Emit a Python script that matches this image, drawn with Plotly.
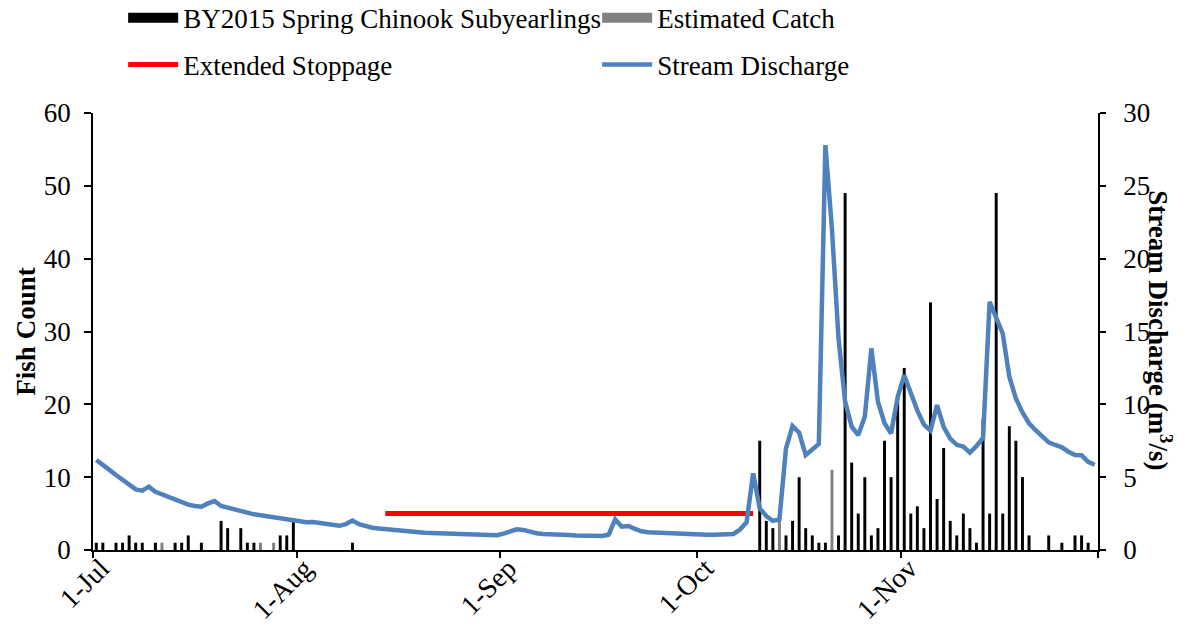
import pandas as pd
import plotly.graph_objects as go

# Daily mean stream discharge (m^3/s), 1 Jul - 30 Nov 2016
discharge_jul = [6.18, 5.8, 5.5, 5.15, 4.8, 4.46, 4.16, 4.07, 4.35, 4.0, 3.82,
                 3.61, 3.43, 3.25, 3.11, 3.02, 2.97, 3.2, 3.36, 3.02, 2.9, 2.82,
                 2.68, 2.56, 2.45, 2.38, 2.31, 2.22, 2.13, 2.06, 1.99]
discharge_aug = [1.95, 1.9, 1.92, 1.85, 1.75, 1.68, 1.66, 1.78, 2.02, 1.77, 1.62,
                 1.53, 1.48, 1.43, 1.38, 1.33, 1.29, 1.25, 1.21, 1.18, 1.16, 1.15,
                 1.13, 1.12, 1.10, 1.08, 1.06, 1.05, 1.03, 1.01, 1.02]
discharge_sep = [1.12, 1.25, 1.42, 1.38, 1.25, 1.15, 1.1, 1.1, 1.08, 1.06, 1.03,
                 1.0, 0.98, 0.97, 0.95, 0.96, 1.05, 2.1, 1.6, 1.65, 1.45, 1.28,
                 1.22, 1.2, 1.15, 1.12, 1.08, 1.06, 1.04, 1.02]
discharge_oct = [1.02, 1.04, 1.05, 1.06, 1.08, 1.1, 1.4, 1.9, 5.26, 2.86, 2.33,
                 2.0, 2.1, 6.98, 8.51, 8.05, 6.52, 6.9, 7.28, 27.8, 22.0, 14.5,
                 10.2, 8.47, 7.89, 9.15, 13.84, 10.18, 8.7, 8.0, 10.5]
discharge_nov = [12.0, 10.77, 9.57, 8.6, 8.2, 9.95, 8.46, 7.65, 7.22, 7.1, 6.68,
                 7.14, 7.7, 17.04, 15.9, 14.85, 11.9, 10.4, 9.45, 8.7, 8.22, 7.77,
                 7.39, 7.21, 7.05, 6.75, 6.52, 6.5, 6.05, 5.85]

# Daily trap catch of BY2015 spring Chinook subyearlings
catch_dates = [
    "2016-07-01", "2016-07-02", "2016-07-04", "2016-07-05", "2016-07-06",
    "2016-07-07", "2016-07-08", "2016-07-10", "2016-07-13", "2016-07-14",
    "2016-07-15", "2016-07-17", "2016-07-20", "2016-07-21", "2016-07-23",
    "2016-07-24", "2016-07-25", "2016-07-29", "2016-07-30", "2016-07-31",
    "2016-08-09",
    "2016-10-10", "2016-10-11", "2016-10-12", "2016-10-14", "2016-10-15",
    "2016-10-16", "2016-10-17", "2016-10-18", "2016-10-19", "2016-10-20",
    "2016-10-22", "2016-10-23", "2016-10-24", "2016-10-25", "2016-10-26",
    "2016-10-27", "2016-10-28", "2016-10-29", "2016-10-30", "2016-10-31",
    "2016-11-01", "2016-11-02", "2016-11-03", "2016-11-04", "2016-11-05",
    "2016-11-06", "2016-11-07", "2016-11-08", "2016-11-09", "2016-11-10",
    "2016-11-11", "2016-11-12", "2016-11-13", "2016-11-14", "2016-11-15",
    "2016-11-16", "2016-11-17", "2016-11-18", "2016-11-19", "2016-11-20",
    "2016-11-23", "2016-11-25", "2016-11-27", "2016-11-28", "2016-11-29",
]
catch_counts = [
    1, 1, 1, 1, 2,
    1, 1, 1, 1, 1,
    2, 1, 4, 3, 3,
    1, 1, 2, 2, 4,
    1,
    15, 4, 3, 2, 4,
    10, 3, 2, 1, 1,
    2, 49, 12, 5, 10,
    2, 3, 15, 10, 21,
    25, 5, 6, 3, 34,
    7, 14, 4, 2, 5,
    3, 1, 18, 5, 49,
    5, 17, 15, 10, 2,
    2, 1, 2, 2, 1,
]

# Days with estimated catch
est_dates = ["2016-07-11", "2016-07-26", "2016-07-28", "2016-10-13", "2016-10-21"]
est_counts = [1, 1, 1, 4, 11]

# Extended trap stoppage period
stoppage_dates = ["2016-08-14", "2016-10-09"]
stoppage_level = [5, 5]

month_ticks = ["2016-07-01", "2016-08-01", "2016-09-01", "2016-10-01",
               "2016-11-01", "2016-12-01"]
month_labels = ["1-Jul", "1-Aug", "1-Sep", "1-Oct", "1-Nov", ""]

FONT = "Liberation Serif, Times New Roman, serif"
HALF_DAY = pd.Timedelta(hours=12)
BAR_WIDTH = 0.45 * 86400000  # in ms on the date axis

days = pd.date_range("2016-07-01", "2016-11-30", freq="D")
discharge = discharge_jul + discharge_aug + discharge_sep + discharge_oct + discharge_nov


def mid_day(values):
    return pd.to_datetime(values) + HALF_DAY


fig = go.Figure()

fig.add_bar(x=mid_day(catch_dates), y=catch_counts, width=BAR_WIDTH,
            marker=dict(color="black", line=dict(width=0)),
            name="BY2015 Spring Chinook Subyearlings",
            legendgroup="catch", showlegend=False)
fig.add_bar(x=mid_day(est_dates), y=est_counts, width=BAR_WIDTH,
            marker=dict(color="#808080", line=dict(width=0)),
            name="Estimated Catch", legendgroup="est", showlegend=False)

fig.add_scatter(x=mid_day(stoppage_dates), y=stoppage_level, mode="lines",
                line=dict(color="#FF0000", width=5),
                name="Extended Stoppage", legend="legend2")
fig.add_scatter(x=days + HALF_DAY, y=discharge, yaxis="y2", mode="lines",
                line=dict(color="#4F81BD", width=4.5),
                name="Stream Discharge", legend="legend2")

# Wide swatches for the bar series in the legend
fig.add_scatter(x=[None], y=[None], mode="lines",
                line=dict(color="black", width=14),
                name="BY2015 Spring Chinook Subyearlings",
                legendgroup="catch", legend="legend")
fig.add_scatter(x=[None], y=[None], mode="lines",
                line=dict(color="#808080", width=14),
                name="Estimated Catch", legendgroup="est", legend="legend")

axis_common = dict(showline=True, linecolor="black", linewidth=1.5,
                   ticks="outside", tickcolor="black", tickwidth=1.5,
                   showgrid=False, zeroline=False, automargin=False,
                   tickfont=dict(family=FONT, size=27, color="black"))

legend_common = dict(orientation="h", x=0.03, xanchor="left",
                     yanchor="middle", itemwidth=50, entrywidth=409,
                     traceorder="normal", bgcolor="rgba(0,0,0,0)",
                     font=dict(family=FONT, size=27))

fig.update_layout(
    width=1186, height=627,
    margin=dict(l=93, r=88, t=113, b=77, pad=0, autoexpand=False),
    paper_bgcolor="white", plot_bgcolor="white",
    barmode="overlay",
    font=dict(family=FONT, size=27, color="black"),
    xaxis=dict(type="date", range=["2016-07-01", "2016-12-01"],
               tickmode="array", tickvals=month_ticks, ticktext=month_labels,
               tickangle=-45, ticklen=6, ticklabelstandoff=-17,
               ticklabelshift=8, **axis_common),
    yaxis=dict(range=[0, 60], dtick=10, ticklen=7, ticklabelstandoff=8,
               title=dict(text="<b>Fish Count</b>", standoff=0,
                          font=dict(family=FONT, size=27)),
               **axis_common),
    yaxis2=dict(range=[0, 30], dtick=5, ticklen=6, overlaying="y",
                side="right", ticklabelstandoff=12, **axis_common),
    legend=dict(y=1.217, **legend_common),
    legend2=dict(y=1.11, **legend_common),
    annotations=[dict(text="<b>Stream Discharge (m<sup>3</sup>/s)</b>",
                      xref="paper", yref="paper", x=1.0617, y=0.503,
                      xanchor="center", yanchor="middle",
                      textangle=90, showarrow=False,
                      font=dict(family=FONT, size=27))],
)
fig.update_xaxes(tickfont=dict(size=28))

fig.write_html("out.html")
